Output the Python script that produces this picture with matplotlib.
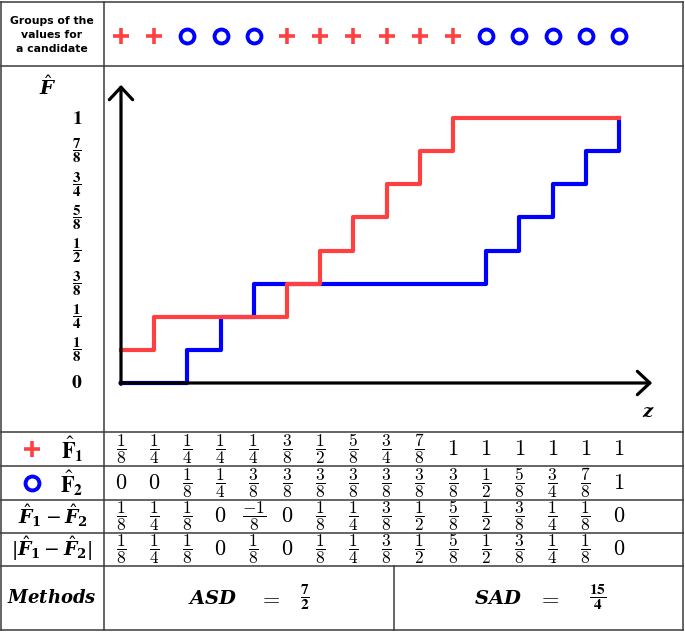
from fractions import Fraction
import numpy as np
import matplotlib
matplotlib.use('Agg')
from matplotlib import pyplot as plt
from matplotlib.transforms import blended_transform_factory

# empirical cdf values, in eighths, at the 16 sorted positions z
z = np.arange(16)
f1_eighths = [1, 2, 2, 2, 2, 3, 4, 5, 6, 7, 8, 8, 8, 8, 8, 8]
f2_eighths = [0, 0, 1, 2, 3, 3, 3, 3, 3, 3, 3, 4, 5, 6, 7, 8]
groups = [1, 1, 2, 2, 2, 1, 1, 1, 1, 1, 1, 2, 2, 2, 2, 2]
ytick_eighths = [0, 1, 2, 3, 4, 5, 6, 7, 8]

RED = '#ff4040'
BLUE = '#0000ff'
GRID = '#3a3a3a'

f1 = np.array(f1_eighths) / 8
f2 = np.array(f2_eighths) / 8
diff = [a - b for a, b in zip(f1_eighths, f2_eighths)]
absdiff = [abs(d) for d in diff]
asd = Fraction(sum(diff), 8)
sad = Fraction(sum(absdiff), 8)


def frac_str(fr, bold=False):
    if fr.denominator == 1:
        s = str(fr.numerator)
        return r'$\mathbf{%s}$' % s if bold else '$%s$' % s
    if bold:
        return r'$\dfrac{\mathbf{%d}}{\mathbf{%d}}$' % (fr.numerator, fr.denominator)
    return r'$\dfrac{%d}{%d}$' % (fr.numerator, fr.denominator)


fig = plt.figure(figsize=(6.85, 6.32), dpi=100)

# background axes in pixel units for the table frame and labels
ax = fig.add_axes([0, 0, 1, 1])
ax.set_xlim(0, 685)
ax.set_ylim(632, 0)
ax.axis('off')

# chart axes: z index 0..15 and F from 0 to 1
ax2 = fig.add_axes([121 / 685, (632 - 383) / 632, 498 / 685, 265 / 632])
ax2.set_xlim(0, 15)
ax2.set_ylim(0, 1)
ax2.axis('off')

# table frame
for y in [2, 66, 432, 466, 500, 533, 566, 630]:
    ax.plot([1, 683], [y, y], color=GRID, lw=1.1)
for x in [1, 104, 683]:
    ax.plot([x, x], [2, 630], color=GRID, lw=1.1)
ax.plot([394, 394], [566, 630], color=GRID, lw=1.1)

# step functions
ax2.step(z, f2, where='post', color=BLUE, lw=3, clip_on=False, zorder=3)
ax2.step(z, f1, where='post', color=RED, lw=3, clip_on=False, zorder=4)

arrow = dict(arrowstyle='->,head_length=0.45,head_width=0.42', lw=2.3,
             color='black', mutation_scale=20, shrinkA=0, shrinkB=0)
ax2.annotate('', xy=(0, 1.125), xytext=(0, -0.005), arrowprops=arrow,
             annotation_clip=False, zorder=6)
ax2.annotate('', xy=(16.0, 0), xytext=(-0.03, 0), arrowprops=arrow,
             annotation_clip=False, zorder=6)

# y tick labels
for k in ytick_eighths:
    fr = Fraction(k, 8)
    ax2.text(-44 / 33.2, k / 8, frac_str(fr, bold=True),
             ha='center', va='center',
             fontsize=14 if fr.denominator == 1 else 10.8,
             math_fontfamily='stix')
ax.text(48, 87, r'$\hat{\mathbfit{F}}$', ha='center', va='center', fontsize=14,
        math_fontfamily='dejavuserif')
ax.text(648, 412, r'$\mathbfit{z}$', ha='center', va='center', fontsize=13,
        math_fontfamily='dejavuserif')

# header row
ax.text(52, 35, 'Groups of the\nvalues for\na candidate', ha='center',
        va='center', fontsize=7.8, fontweight='bold', linespacing=1.45,
        family='DejaVu Sans')
mix = blended_transform_factory(ax2.transData, ax.transData)
for i, g in zip(z, groups):
    if g == 1:
        ax.plot(i, 36, marker='+', color=RED, ms=12, mew=2.6, transform=mix)
    else:
        ax.plot(i, 36, marker='o', mfc='none', mec=BLUE, ms=10, mew=2.8,
                transform=mix)

# table rows
rows = [
    (449, f1_eighths),
    (483, f2_eighths),
    (516, diff),
    (549, absdiff),
]
for y, vals in rows:
    for i, v in zip(z, vals):
        fr = Fraction(v, 8)
        ax.text(i, y, frac_str(fr), ha='center', va='center',
                fontsize=16 if fr.denominator == 1 else 12.5,
                transform=mix, math_fontfamily='cm')

ax.plot(32, 449, marker='+', color=RED, ms=12, mew=2.6)
ax.plot(32, 483, marker='o', mfc='none', mec=BLUE, ms=10, mew=2.8)
ax.text(72, 449, r'$\hat{\mathbf{F}}_{\mathbf{1}}$', ha='center', va='center',
        fontsize=16, math_fontfamily='stix')
ax.text(72, 483, r'$\hat{\mathbf{F}}_{\mathbf{2}}$', ha='center', va='center',
        fontsize=16, math_fontfamily='stix')
ax.text(53, 516, r'$\hat{\mathbfit{F}}_{\mathbf{1}}-\hat{\mathbfit{F}}_{\mathbf{2}}$',
        ha='center', va='center', fontsize=13.5, math_fontfamily='dejavuserif')
ax.text(52, 549, r'$|\hat{\mathbfit{F}}_{\mathbf{1}}-\hat{\mathbfit{F}}_{\mathbf{2}}|$',
        ha='center', va='center', fontsize=13.5, math_fontfamily='dejavuserif')

# methods row
ax.text(52, 598, r'$\mathbfit{Methods}$', ha='center', va='center',
        fontsize=13, math_fontfamily='dejavuserif')
ax.text(213, 598, r'$\mathbfit{ASD}$', ha='center', va='center', fontsize=14,
        math_fontfamily='dejavuserif')
ax.text(270, 598, '$=$', ha='center', va='center', fontsize=16,
        math_fontfamily='cm')
ax.text(305, 598, frac_str(asd, bold=True), ha='center', va='center',
        fontsize=11, math_fontfamily='stix')
ax.text(498, 598, r'$\mathbfit{SAD}$', ha='center', va='center', fontsize=14,
        math_fontfamily='dejavuserif')
ax.text(549, 598, '$=$', ha='center', va='center', fontsize=16,
        math_fontfamily='cm')
ax.text(598, 598, frac_str(sad, bold=True), ha='center', va='center',
        fontsize=11, math_fontfamily='stix')

fig.savefig('out.png', dpi=100)
